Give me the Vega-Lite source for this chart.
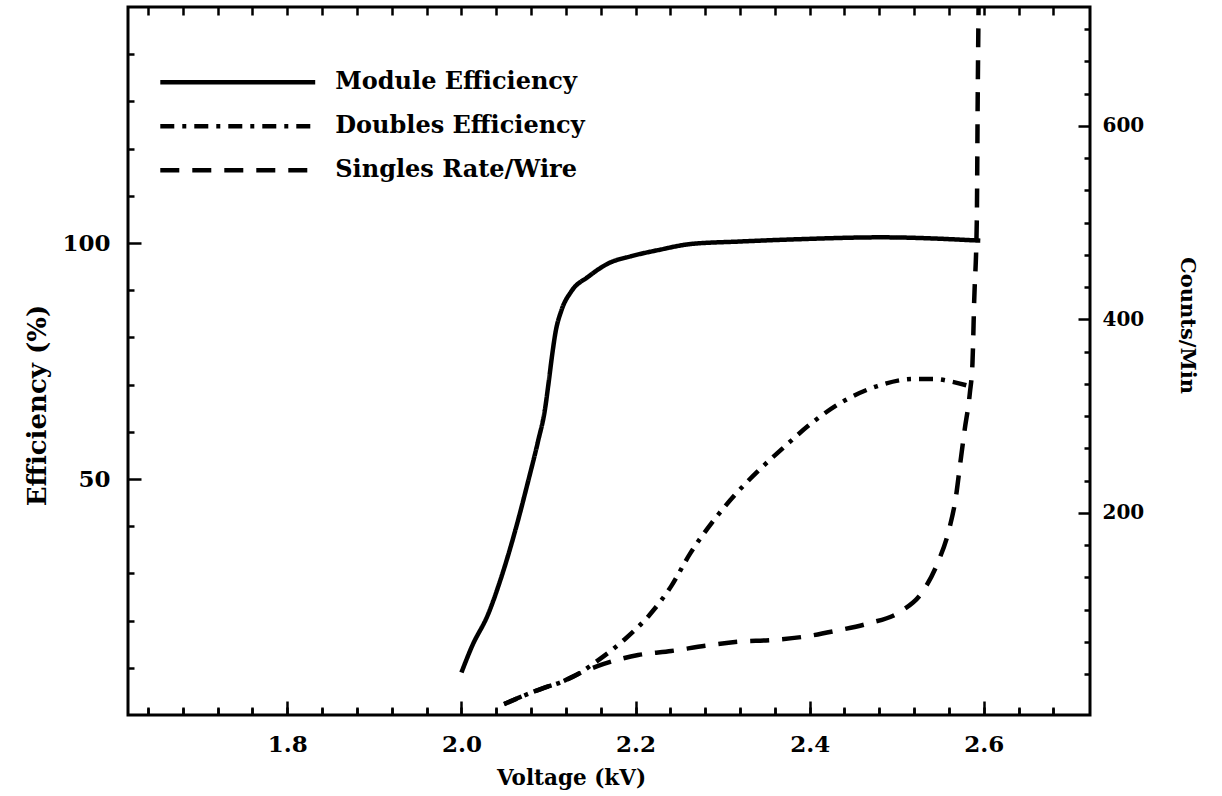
{
  "$schema": "https://vega.github.io/schema/vega-lite/v6.json",
  "width": 962,
  "height": 708,
  "autosize": "none",
  "padding": {"left": 128, "top": 7, "right": 132, "bottom": 81},
  "background": "white",
  "config": {
    "view": {"stroke": "black", "strokeWidth": 3},
    "font": "DejaVu Serif",
    "axis": {
      "domain": false,
      "grid": false,
      "tickColor": "black",
      "tickWidth": 2.5,
      "labelColor": "black",
      "titleColor": "black",
      "labelFont": "DejaVu Serif",
      "labelFontWeight": "bold",
      "titleFont": "DejaVu Serif",
      "titleFontWeight": "bold",
      "labelFlush": false,
      "labelOverlap": false
    }
  },
  "datasets": {
    "module": [
      {"voltage": 2.000, "efficiency": 9.0},
      {"voltage": 2.012, "efficiency": 14.5},
      {"voltage": 2.031, "efficiency": 21.5},
      {"voltage": 2.046, "efficiency": 29.3},
      {"voltage": 2.062, "efficiency": 39.2},
      {"voltage": 2.077, "efficiency": 49.8},
      {"voltage": 2.088, "efficiency": 58.0},
      {"voltage": 2.096, "efficiency": 64.8},
      {"voltage": 2.100, "efficiency": 70.2},
      {"voltage": 2.104, "efficiency": 76.0},
      {"voltage": 2.108, "efficiency": 81.0},
      {"voltage": 2.115, "efficiency": 85.8},
      {"voltage": 2.126, "efficiency": 89.7},
      {"voltage": 2.146, "efficiency": 92.9},
      {"voltage": 2.169, "efficiency": 95.7},
      {"voltage": 2.195, "efficiency": 97.2},
      {"voltage": 2.226, "efficiency": 98.5},
      {"voltage": 2.264, "efficiency": 99.8},
      {"voltage": 2.318, "efficiency": 100.3},
      {"voltage": 2.387, "efficiency": 100.8},
      {"voltage": 2.482, "efficiency": 101.2},
      {"voltage": 2.596, "efficiency": 100.5}
    ],
    "doubles": [
      {"voltage": 2.049, "efficiency": 2.3},
      {"voltage": 2.094, "efficiency": 5.7},
      {"voltage": 2.115, "efficiency": 7.0},
      {"voltage": 2.134, "efficiency": 8.7},
      {"voltage": 2.154, "efficiency": 11.2},
      {"voltage": 2.188, "efficiency": 16.1},
      {"voltage": 2.216, "efficiency": 21.2},
      {"voltage": 2.241, "efficiency": 27.3},
      {"voltage": 2.263, "efficiency": 34.3},
      {"voltage": 2.288, "efficiency": 40.8},
      {"voltage": 2.314, "efficiency": 46.6},
      {"voltage": 2.343, "efficiency": 52.1},
      {"voltage": 2.372, "efficiency": 57.0},
      {"voltage": 2.404, "efficiency": 62.1},
      {"voltage": 2.439, "efficiency": 66.5},
      {"voltage": 2.478, "efficiency": 69.7},
      {"voltage": 2.520, "efficiency": 71.2},
      {"voltage": 2.543, "efficiency": 71.2},
      {"voltage": 2.564, "efficiency": 70.6},
      {"voltage": 2.585, "efficiency": 69.6}
    ],
    "singles": [
      {"voltage": 2.049, "rate": 2.4},
      {"voltage": 2.094, "rate": 18.9},
      {"voltage": 2.115, "rate": 25.1},
      {"voltage": 2.134, "rate": 33.4},
      {"voltage": 2.157, "rate": 41.7},
      {"voltage": 2.203, "rate": 53.0},
      {"voltage": 2.241, "rate": 57.2},
      {"voltage": 2.280, "rate": 62.6},
      {"voltage": 2.318, "rate": 66.8},
      {"voltage": 2.356, "rate": 68.5},
      {"voltage": 2.394, "rate": 72.0},
      {"voltage": 2.431, "rate": 78.2},
      {"voltage": 2.468, "rate": 85.8},
      {"voltage": 2.504, "rate": 97.8},
      {"voltage": 2.531, "rate": 120.2},
      {"voltage": 2.547, "rate": 148.2},
      {"voltage": 2.560, "rate": 182.3},
      {"voltage": 2.568, "rate": 216.7},
      {"voltage": 2.573, "rate": 251.5},
      {"voltage": 2.578, "rate": 285.7},
      {"voltage": 2.584, "rate": 323.9},
      {"voltage": 2.587, "rate": 354.9},
      {"voltage": 2.589, "rate": 420},
      {"voltage": 2.592, "rate": 503},
      {"voltage": 2.593, "rate": 627},
      {"voltage": 2.594, "rate": 723}
    ]
  },
  "layer": [
    {
      "data": {"name": "module"},
      "mark": {"type": "line", "color": "black", "strokeWidth": 4.5, "interpolate": "monotone", "clip": true},
      "encoding": {
        "x": {
          "field": "voltage",
          "type": "quantitative",
          "scale": {"domain": [1.617, 2.722], "nice": false, "zero": false},
          "axis": {
            "orient": "bottom",
            "values": [1.64, 1.68, 1.72, 1.76, 1.8, 1.84, 1.88, 1.92, 1.96, 2.0, 2.04, 2.08, 2.12, 2.16, 2.2, 2.24, 2.28, 2.32, 2.36, 2.4, 2.44, 2.48, 2.52, 2.56, 2.6, 2.64, 2.68],
            "format": ".1f",
            "labelExpr": "abs(datum.value * 5 - round(datum.value * 5)) < 0.001 ? datum.label : ''",
            "labelOverlap": false,
            "tickSize": {"condition": {"test": "abs(datum.value * 5 - round(datum.value * 5)) < 0.001", "value": -14}, "value": -7},
            "grid": true,
            "gridColor": "black",
            "gridOpacity": 1,
            "gridWidth": 2.5,
            "gridDash": [8, 692, 8, 2000],
            "labelPadding": 32,
            "labelFontSize": 23,
            "title": "Voltage (kV)",
            "titleFontSize": 21.5,
            "titleX": 443,
            "titleY": 69,
            "titleBaseline": "alphabetic"
          }
        },
        "y": {
          "field": "efficiency",
          "type": "quantitative",
          "scale": {"domain": [0, 150], "nice": false, "zero": false},
          "axis": {
            "orient": "left",
            "values": [10, 20, 30, 40, 50, 60, 70, 80, 90, 100, 110, 120, 130, 140],
            "labelExpr": "datum.value == 50 || datum.value == 100 ? datum.label : ''",
            "tickSize": {"condition": {"test": "datum.value == 50 || datum.value == 100", "value": -13}, "value": -6},
            "labelPadding": 31,
            "labelFontSize": 23,
            "title": "Efficiency (%)",
            "titleFontSize": 26,
            "titleX": -91,
            "titleY": 398,
            "titleBaseline": "middle"
          }
        },
        "strokeDash": {
          "datum": "Module Efficiency",
          "type": "nominal",
          "scale": {
            "domain": ["Module Efficiency", "Doubles Efficiency", "Singles Rate/Wire"],
            "range": [[1, 0], [14, 8, 4, 8], [19, 13]]
          },
          "legend": {
            "orient": "none",
            "legendX": 97.75,
            "legendY": 63.25,
            "title": null,
            "padding": 0,
            "symbolType": "M-10,0H10",
            "symbolSize": 240,
            "symbolStrokeWidth": 4.5,
            "symbolStrokeColor": "black",
            "symbolFillColor": "transparent",
            "labelFont": "DejaVu Serif",
            "labelFontWeight": "bold",
            "labelFontSize": 24,
            "labelColor": "black",
            "labelOffset": 85.5,
            "labelLimit": 400,
            "rowPadding": 20
          }
        }
      }
    },
    {
      "data": {"name": "doubles"},
      "mark": {"type": "line", "color": "black", "strokeWidth": 4.5, "interpolate": "monotone", "clip": true},
      "encoding": {
        "x": {
          "field": "voltage",
          "type": "quantitative",
          "scale": {"domain": [1.617, 2.722], "nice": false, "zero": false},
          "axis": null
        },
        "y": {
          "field": "efficiency",
          "type": "quantitative",
          "scale": {"domain": [0, 150], "nice": false, "zero": false},
          "axis": null
        },
        "strokeDash": {"datum": "Doubles Efficiency", "type": "nominal"}
      }
    },
    {
      "data": {"name": "singles"},
      "mark": {"type": "line", "color": "black", "strokeWidth": 4.5, "interpolate": "monotone", "clip": true},
      "encoding": {
        "x": {
          "field": "voltage",
          "type": "quantitative",
          "scale": {"domain": [1.617, 2.722], "nice": false, "zero": false},
          "axis": null
        },
        "y": {
          "field": "rate",
          "type": "quantitative",
          "scale": {"domain": [-9, 723], "nice": false, "zero": false},
          "axis": {
            "orient": "right",
            "values": [33.333, 66.667, 100, 133.333, 166.667, 200, 233.333, 266.667, 300, 333.333, 366.667, 400, 433.333, 466.667, 500, 533.333, 566.667, 600, 633.333, 666.667, 700],
            "format": "d",
            "labelExpr": "datum.value == 200 || datum.value == 400 || datum.value == 600 ? datum.label : ''",
            "tickSize": {"condition": {"test": "datum.value == 200 || datum.value == 400 || datum.value == 600", "value": -12}, "value": -6},
            "labelPadding": 24,
            "labelFontSize": 20,
            "title": "Counts/Min",
            "titleFontSize": 21,
            "titleAngle": 90,
            "titleX": 96,
            "titleY": 318,
            "titleBaseline": "middle"
          }
        },
        "strokeDash": {"datum": "Singles Rate/Wire", "type": "nominal"}
      }
    }
  ],
  "resolve": {
    "scale": {"x": "independent", "y": "independent"},
    "axis": {"x": "independent", "y": "independent"}
  }
}
